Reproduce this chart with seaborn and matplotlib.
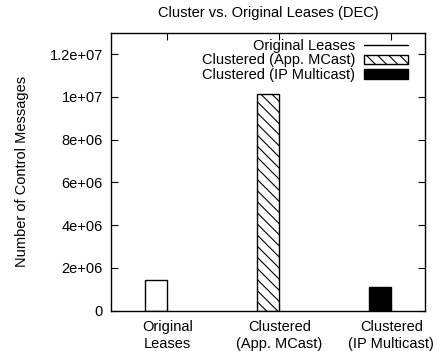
import pandas as pd
import seaborn as sns
import matplotlib.pyplot as plt
from matplotlib.lines import Line2D
from matplotlib.patches import Patch

# Dados do grafico
categorias = ['Original\nLeases', 'Clustered\n(App. MCast)', 'Clustered\n(IP Multicast)']
series = ['Original Leases', 'Clustered (App. MCast)', 'Clustered (IP Multicast)']
valores = [1.41e6, 10.15e6, 1.12e6]
y_ticks = [0, 2e6, 4e6, 6e6, 8e6, 1e7, 1.2e7]
y_labels = ['0', '2e+06', '4e+06', '6e+06', '8e+06', '1e+07', '1.2e+07']

df = pd.DataFrame({'categoria': categorias, 'valor': valores})

sns.set_style('ticks', {'axes.edgecolor': 'black', 'text.color': 'black',
                        'axes.labelcolor': 'black', 'xtick.color': 'black',
                        'ytick.color': 'black'})
plt.rcParams['font.family'] = ['Liberation Sans', 'DejaVu Sans']
plt.rcParams['hatch.linewidth'] = 0.8

fig = plt.figure(figsize=(4.38, 3.51), dpi=100)
ax = fig.add_axes([0.254, 0.115, 0.716, 0.792])

sns.barplot(data=df, x='categoria', y='valor', order=categorias, width=0.2,
            color='white', edgecolor='black', linewidth=1, ax=ax, saturation=1)

# estilo gnuplot: barra a esquerda do tick
estilos = [('white', ''), ('white', '\\\\\\'), ('black', '')]
for patch, (cor, hatch) in zip(ax.patches, estilos):
    patch.set_x(patch.get_x() - 0.1)
    patch.set_facecolor(cor)
    patch.set_hatch(hatch)
    patch.set_edgecolor('black')

ax.set_xlim(-0.5, 2.3)
ax.set_ylim(0, 1.3e7)
ax.set_yticks(y_ticks)
ax.set_yticklabels(y_labels)
ax.set_xlabel('')
ax.set_ylabel('Number of Control Messages', fontsize=10.5, labelpad=15)
ax.set_title('Cluster vs. Original Leases (DEC)', fontsize=10.5, pad=11)
ax.tick_params(direction='in', length=5, width=0.8, top=True, right=True,
               labelsize=10.5, pad=6)
ax.tick_params(axis='x', pad=7)
for s in ax.spines.values():
    s.set_linewidth(1)

handles = [Line2D([], [], color='black', lw=1),
           Patch(facecolor='white', edgecolor='black', hatch='\\\\\\'),
           Patch(facecolor='black', edgecolor='black')]
ax.legend(handles, series, loc='upper right', bbox_to_anchor=(0.946, 0.978),
          frameon=False, markerfirst=False, fontsize=10.5, handlelength=3.0,
          handleheight=0.6, labelspacing=0.05, handletextpad=0.6,
          borderaxespad=0, borderpad=0)

fig.savefig('out.png', dpi=100)
